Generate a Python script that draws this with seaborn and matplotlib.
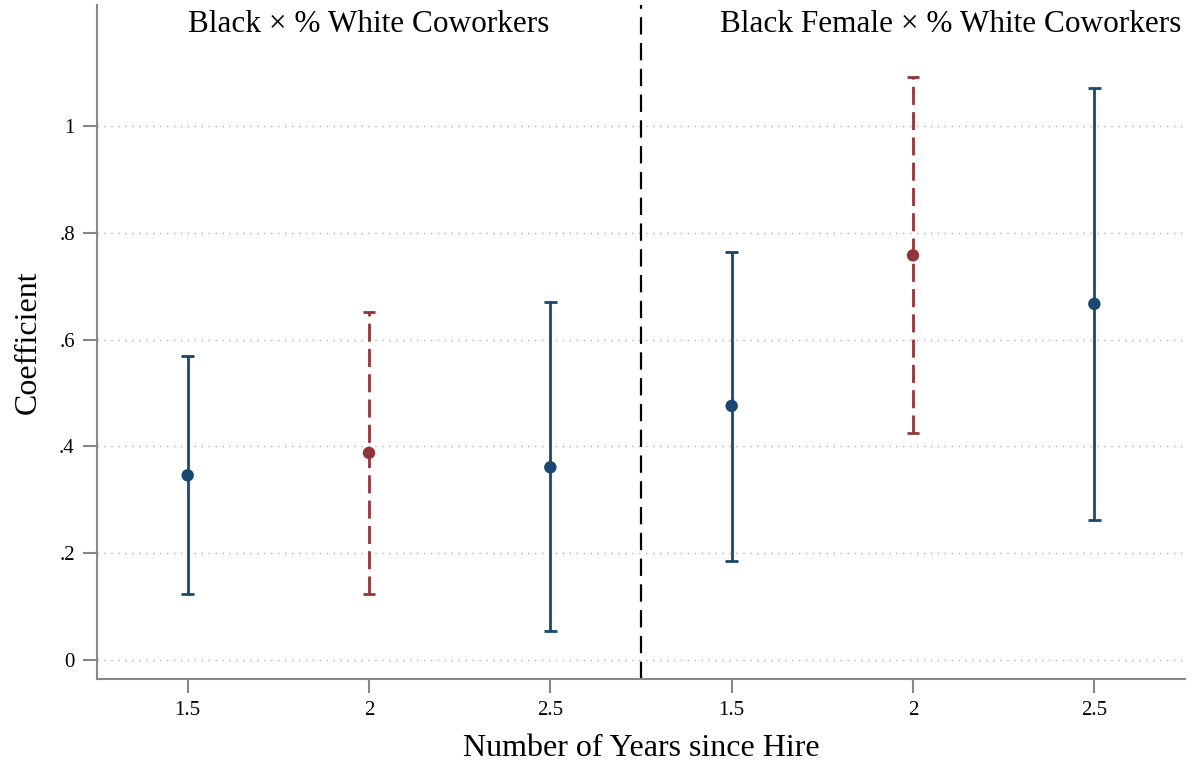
import matplotlib
matplotlib.use("Agg")
import matplotlib.pyplot as plt
import seaborn as sns
import pandas as pd
import numpy as np

tick_labels = ["1.5", "2", "2.5", "1.5", "2", "2.5"]
groups = ["Black", "Black", "Black", "Black Female", "Black Female", "Black Female"]
coef = [0.346, 0.388, 0.361, 0.476, 0.758, 0.667]
ci_low = [0.124, 0.124, 0.054, 0.185, 0.425, 0.262]
ci_high = [0.569, 0.652, 0.670, 0.764, 1.092, 1.071]
highlight = [False, True, False, False, True, False]
panel_titles = ["Black \u00d7 % White Coworkers", "Black Female \u00d7 % White Coworkers"]

BLUE = "#1a476f"
RED = "#90353b"

df = pd.DataFrame({"pos": np.arange(len(coef)), "coef": coef, "lo": ci_low,
                   "hi": ci_high, "hl": highlight, "group": groups})

sns.set_theme(style="white")
plt.rcParams["font.family"] = ["Liberation Serif", "DejaVu Serif"]
plt.rcParams["text.color"] = "black"
plt.rcParams["axes.labelcolor"] = "black"
plt.rcParams["xtick.labelcolor"] = "black"
plt.rcParams["ytick.labelcolor"] = "black"

fig = plt.figure(figsize=(11.93, 7.61), dpi=100)
ax = fig.add_axes([97/1193, 1-679/761, (1185-97)/1193, (679-5)/761])

for _, r in df.iterrows():
    col = RED if r.hl else BLUE
    ls = (0, (6.5, 2.6)) if r.hl else "-"
    ax.vlines(r.pos, r.lo, r.hi, color=col, lw=2.0, linestyles=[ls], zorder=2)
    ax.hlines([r.lo, r.hi], r.pos - 0.035, r.pos + 0.035, color=col, lw=2.0, zorder=2)

sns.scatterplot(data=df, x="pos", y="coef", hue="hl", palette={False: BLUE, True: RED},
                s=80, edgecolor="none", legend=False, ax=ax, zorder=3)

ax.axvline(2.5, color="black", lw=1.6, ls=(0, (7.8, 3.8)), zorder=1)

ax.set_xlim(-0.5, 5.5)
ax.set_ylim(-0.0356, 1.227)
ax.set_xticks(df["pos"])
ax.set_xticklabels(tick_labels)
yt = [0, 0.2, 0.4, 0.6, 0.8, 1.0]
ax.set_yticks(yt)
ax.set_yticklabels(["0", ".2", ".4", ".6", ".8", "1"])
ax.yaxis.grid(True, ls=(0, (1, 4)), color="#b0b0b0", lw=1.0)
ax.set_axisbelow(True)

for s in ["top", "right"]:
    ax.spines[s].set_visible(False)
for s in ["left", "bottom"]:
    ax.spines[s].set_color("#888888")
    ax.spines[s].set_linewidth(1.5)
ax.tick_params(axis="both", which="major", length=10, width=1.5, color="#888888",
               labelsize=15, bottom=True, left=True, pad=6)

ax.set_xlabel("Number of Years since Hire", fontsize=23, labelpad=10)
ax.set_ylabel("Coefficient", fontsize=23, labelpad=12)

ax.text(1.0, 1.19, panel_titles[0], fontsize=22.5, ha="center", va="center")
ax.text(4.21, 1.19, panel_titles[1], fontsize=22.5, ha="center", va="center")

fig.savefig("out.png", dpi=100)
